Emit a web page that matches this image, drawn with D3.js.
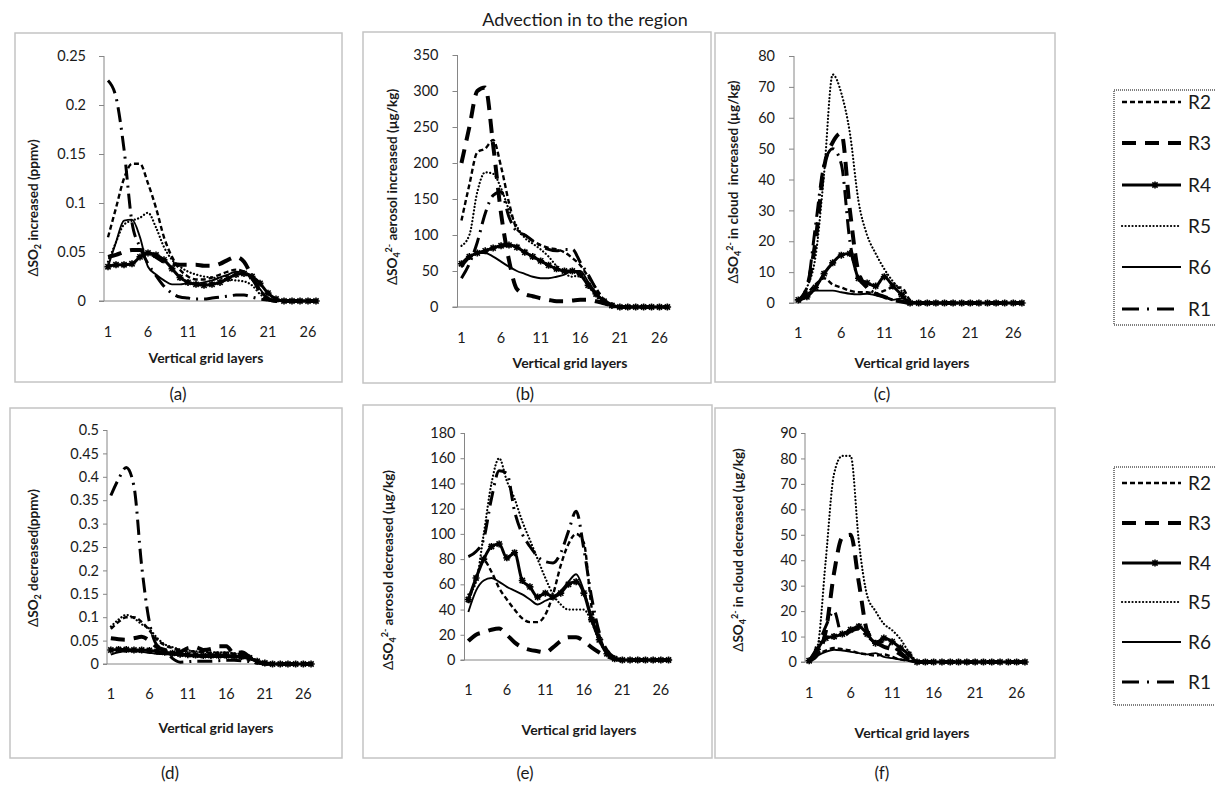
<!DOCTYPE html>
<html>
<head>
<meta charset="utf-8">
<script src="https://cdn.jsdelivr.net/npm/d3@7"></script>
<style>
body { margin: 0; background: #fff; }
svg { font-family: Lato, "Open Sans", sans-serif; }
</style>
</head>
<body>
<svg id="fig" width="1215" height="787"></svg>
<script>
// categories and tick labels
var layers = [1,2,3,4,5,6,7,8,9,10,11,12,13,14,15,16,17,18,19,20,21,22,23,24,25,26,27];
var xTickLabels = [1, 6, 11, 16, 21, 26];
var seriesNames = ["R2", "R3", "R4", "R5", "R6", "R1"];

var aTicks = [0, 0.05, 0.1, 0.15, 0.2, 0.25];
var bTicks = [0, 50, 100, 150, 200, 250, 300, 350];
var cTicks = [0, 10, 20, 30, 40, 50, 60, 70, 80];
var dTicks = [0, 0.05, 0.1, 0.15, 0.2, 0.25, 0.3, 0.35, 0.4, 0.45, 0.5];
var eTicks = [0, 20, 40, 60, 80, 100, 120, 140, 160, 180];
var fTicks = [0, 10, 20, 30, 40, 50, 60, 70, 80, 90];

// (a) SO2 increased
var aR1 = [0.225,0.208,0.155,0.08,0.055,0.038,0.026,0.015,0.008,0.004,0.003,0.002,0.002,0.003,0.004,0.005,0.006,0.006,0.004,0.002,0.001,0,0,0,0,0,0];
var aR2 = [0.065,0.095,0.125,0.14,0.14,0.12,0.095,0.065,0.045,0.032,0.025,0.022,0.022,0.024,0.027,0.03,0.032,0.03,0.022,0.01,0.003,0,0,0,0,0,0];
var aR3 = [0.045,0.047,0.05,0.052,0.052,0.05,0.045,0.04,0.038,0.037,0.037,0.037,0.036,0.036,0.038,0.042,0.045,0.04,0.025,0.01,0.002,0,0,0,0,0,0];
var aR4 = [0.035,0.037,0.037,0.038,0.045,0.049,0.047,0.042,0.033,0.024,0.019,0.017,0.016,0.017,0.019,0.023,0.027,0.028,0.025,0.018,0.008,0.002,0,0,0,0,0];
var aR5 = [0.04,0.06,0.078,0.082,0.085,0.09,0.075,0.055,0.042,0.035,0.03,0.027,0.025,0.024,0.023,0.022,0.021,0.02,0.016,0.007,0.002,0,0,0,0,0,0];
var aR6 = [0.035,0.06,0.082,0.083,0.065,0.035,0.027,0.021,0.017,0.017,0.018,0.018,0.019,0.021,0.024,0.027,0.03,0.029,0.022,0.012,0.003,0,0,0,0,0,0];

// (b) SO4 aerosol increased
var bR1 = [40,60,90,130,155,160,125,105,100,92,85,80,78,80,80,62,45,25,10,3,0,0,0,0,0,0,0];
var bR2 = [120,170,215,220,232,195,145,108,100,92,86,82,80,76,68,58,42,26,10,3,0,0,0,0,0,0,0];
var bR3 = [200,250,300,305,225,130,65,25,18,15,12,10,8,8,9,10,10,8,5,2,0,0,0,0,0,0,0];
var bR4 = [60,70,75,78,82,85,86,83,76,70,64,58,53,50,50,45,30,18,8,2,0,0,0,0,0,0,0];
var bR5 = [85,100,160,187,185,165,135,112,96,88,80,70,57,47,42,45,30,15,5,1,0,0,0,0,0,0,0];
var bR6 = [55,68,75,75,70,63,56,50,46,42,40,40,42,45,50,50,35,20,8,2,0,0,0,0,0,0,0];

// (c) SO4 in cloud increased
var cR1 = [1,5,25,45,50,45,20,8,5,3,2,1,0.5,0,0,0,0,0,0,0,0,0,0,0,0,0,0];
var cR2 = [0.5,3,6,8,6,5,4,3.5,3.5,3,4,5,5,1,0,0,0,0,0,0,0,0,0,0,0,0,0];
var cR3 = [0.5,5,20,44,52,55,30,10,5,3,2,1,0.5,0,0,0,0,0,0,0,0,0,0,0,0,0,0];
var cR4 = [1,2,5,9.5,13,15.5,16,8,6.5,5.5,8.5,5.5,2.7,0,0,0,0,0,0,0,0,0,0,0,0,0,0];
var cR5 = [1,5,15,42,74,68,55,33,22,16,11,7,4,0.5,0,0,0,0,0,0,0,0,0,0,0,0,0];
var cR6 = [0.5,3,4,4,4,3.5,3,2.8,3,2.5,2,1,1.5,0.5,0,0,0,0,0,0,0,0,0,0,0,0,0];

// (d) SO2 decreased
var dR1 = [0.36,0.395,0.42,0.38,0.21,0.09,0.04,0.03,0.012,0.004,0.005,0.006,0.006,0.006,0.007,0.008,0.008,0.007,0.005,0.002,0,0,0,0,0,0,0];
var dR2 = [0.075,0.09,0.1,0.1,0.09,0.072,0.052,0.04,0.034,0.03,0.028,0.026,0.025,0.024,0.024,0.024,0.022,0.02,0.015,0.006,0.002,0,0,0,0,0,0];
var dR3 = [0.055,0.053,0.052,0.055,0.058,0.05,0.036,0.03,0.026,0.026,0.034,0.036,0.03,0.032,0.038,0.038,0.022,0.025,0.015,0.005,0.001,0,0,0,0,0,0];
var dR4 = [0.03,0.031,0.031,0.03,0.03,0.029,0.027,0.025,0.023,0.021,0.02,0.019,0.018,0.018,0.018,0.018,0.017,0.016,0.013,0.006,0.002,0,0,0,0,0,0];
var dR5 = [0.08,0.095,0.105,0.098,0.085,0.075,0.056,0.042,0.036,0.031,0.029,0.027,0.026,0.025,0.025,0.025,0.023,0.021,0.016,0.007,0.002,0,0,0,0,0,0];
var dR6 = [0.02,0.025,0.027,0.027,0.026,0.024,0.022,0.021,0.02,0.018,0.017,0.016,0.015,0.015,0.015,0.015,0.014,0.013,0.01,0.005,0.001,0,0,0,0,0,0];

// (e) SO4 aerosol decreased
var eR1 = [82,86,96,128,150,148,118,100,90,82,78,77,85,102,118,88,50,22,8,2,0,0,0,0,0,0,0];
var eR2 = [45,65,79,70,57,48,40,33,30,30,36,52,75,92,100,93,42,20,5,1,0,0,0,0,0,0,0];
var eR3 = [15,20,22,24,25,20,14,10,8,7,6,10,15,18,18,15,10,6,3,1,0,0,0,0,0,0,0];
var eR4 = [48,65,80,90,92,81,85,63,58,50,53,50,53,60,62,53,32,16,5,1,0,0,0,0,0,0,0];
var eR5 = [52,62,100,140,160,142,128,110,95,80,65,52,44,40,40,40,30,15,5,1,0,0,0,0,0,0,0];
var eR6 = [38,55,63,65,62,58,55,52,48,44,47,50,55,62,68,55,35,18,6,1,0,0,0,0,0,0,0];

// (f) SO4 in cloud decreased
var fR1 = [0.5,6,14,20,10,12,13,10,8,8,6,4,1,0,0,0,0,0,0,0,0,0,0,0,0,0,0];
var fR2 = [0.5,3,4.5,5.5,5,4.5,3.5,3,2.5,3,2,1,0.5,0,0,0,0,0,0,0,0,0,0,0,0,0,0];
var fR3 = [0.5,3,12,35,49,50,31,12,8,6,5,3,1,0,0,0,0,0,0,0,0,0,0,0,0,0,0];
var fR4 = [0.5,5,9.4,10,11,12.7,14,11,7.4,9.4,8,5.5,3,0,0,0,0,0,0,0,0,0,0,0,0,0,0];
var fR5 = [1,6,40,74,81,81,47,26,20,15,12.5,9,4,0.5,0,0,0,0,0,0,0,0,0,0,0,0,0];
var fR6 = [0.5,2.5,4,4.8,4.5,4,3.5,3,3.5,2,1.5,1,0.5,0,0,0,0,0,0,0,0,0,0,0,0,0,0];

var styles = {
  R2: {w: 2.4, dash: "5,3"},
  R3: {w: 4, dash: "14,9"},
  R4: {w: 3, dash: null},
  R5: {w: 2.2, dash: "0.1,3.4", cap: "round"},
  R6: {w: 1.9, dash: null},
  R1: {w: 3, dash: "15,6,2,6"}
};

var svg = d3.select("#fig");

// asterisk marker like excel's "*"
function star(x, y, s) {
  var k = s * 0.75;
  return "M" + (x - s) + "," + y + "L" + (x + s) + "," + y +
    "M" + x + "," + (y - s) + "L" + x + "," + (y + s) +
    "M" + (x - k) + "," + (y - k) + "L" + (x + k) + "," + (y + k) +
    "M" + (x - k) + "," + (y + k) + "L" + (x + k) + "," + (y - k);
}

var panels = [
  {frame: [15, 33, 342, 382], left: 104, bw: 8, yb: 301, yt: 56, max: 0.25, ticks: aTicks,
   gap: 18, tl: 5, xl: 332, tx: 206, ty: 358, lab: [33, 208], letter: ["(a)", 178, 394],
   sub: "2", sup: null, text: " increased (ppmv)",
   data: {R1: aR1, R2: aR2, R3: aR3, R4: aR4, R5: aR5, R6: aR6}},
  {frame: [363, 32, 711, 383], left: 457.5, bw: 7.92, yb: 307, yt: 55, max: 350, ticks: bTicks,
   gap: 19, tl: 5, xl: 338, tx: 570, ty: 363, lab: [392, 187], letter: ["(b)", 525, 394],
   sub: "4", sup: "2-", text: " aerosol increased (\u00b5g/kg)",
   data: {R1: bR1, R2: bR2, R3: bR3, R4: bR4, R5: bR5, R6: bR6}},
  {frame: [715, 33, 1055, 382], left: 794, bw: 8.6, yb: 303, yt: 56, max: 80, ticks: cTicks,
   gap: 19, tl: 5, xl: 333, tx: 912, ty: 363, lab: [733, 182], letter: ["(c)", 882, 394],
   sub: "4", sup: "2-", text: " in cloud\u00a0 increased (\u00b5g/kg)",
   data: {R1: cR1, R2: cR2, R3: cR3, R4: cR4, R5: cR5, R6: cR6}},
  {frame: [10, 408, 342, 758], left: 107, bw: 7.7, yb: 664, yt: 430, max: 0.5, ticks: dTicks,
   gap: 8, tl: 4, xl: 694, tx: 216, ty: 728, lab: [33, 558], letter: ["(d)", 170, 773],
   sub: "2", sup: null, text: " decreased(ppmv)",
   data: {R1: dR1, R2: dR2, R3: dR3, R4: dR4, R5: dR5, R6: dR6}},
  {frame: [363, 405, 712, 758], left: 464.5, bw: 7.7, yb: 660, yt: 433, max: 180, ticks: eTicks,
   gap: 9, tl: 4, xl: 690, tx: 579, ty: 730, lab: [388, 570], letter: ["(e)", 525, 773],
   sub: "4", sup: "2-", text: " aerosol decreased (\u00b5g/kg)",
   data: {R1: eR1, R2: eR2, R3: eR3, R4: eR4, R5: eR5, R6: eR6}},
  {frame: [715, 408, 1055, 758], left: 805, bw: 8.3, yb: 662, yt: 433, max: 90, ticks: fTicks,
   gap: 8, tl: 4, xl: 693, tx: 912, ty: 733, lab: [738, 550], letter: ["(f)", 882, 773],
   sub: "4", sup: "2-", text: " in cloud decreased (\u00b5g/kg)",
   data: {R1: fR1, R2: fR2, R3: fR3, R4: fR4, R5: fR5, R6: fR6}}
];

svg.append("text")
  .attr("x", 585).attr("y", 20).attr("dy", "0.35em")
  .attr("text-anchor", "middle")
  .style("font-size", "18px").attr("fill", "#1a1a1a")
  .text("Advection in to the region");

panels.forEach(function(p) {
  var g = svg.append("g");
  var f = p.frame;
  g.append("rect")
    .attr("x", f[0]).attr("y", f[1]).attr("width", f[2] - f[0]).attr("height", f[3] - f[1])
    .attr("fill", "none").attr("stroke", "#c4c4c4").attr("stroke-width", 1.5);

  var x = d3.scalePoint().domain(layers)
    .range([p.left, p.left + p.bw * layers.length]).padding(0.5);
  var y = d3.scaleLinear().domain([0, p.max]).range([p.yb, p.yt]);

  // y axis
  var yAxis = d3.axisLeft(y).tickValues(p.ticks).tickSize(p.tl).tickPadding(p.gap - p.tl)
    .tickFormat(function(d) { return d3.format("~g")(d); });
  var ya = g.append("g").attr("transform", "translate(" + p.left + ",0)").call(yAxis);
  ya.select(".domain").attr("stroke", "#868686").attr("d", "M0," + p.yt + "V" + p.yb);
  ya.selectAll(".tick line").attr("stroke", "#868686");
  ya.selectAll(".tick text").style("font-size", "14.5px").style("font-family", "Lato, 'Open Sans', sans-serif").attr("fill", "#1a1a1a");

  // x axis line
  g.append("line")
    .attr("x1", p.left - p.tl).attr("x2", p.left + p.bw * layers.length)
    .attr("y1", y(0)).attr("y2", y(0))
    .attr("stroke", "#868686");

  g.selectAll(".xl").data(xTickLabels).enter().append("text")
    .attr("x", function(d) { return x(d); }).attr("y", p.xl).attr("dy", "0.35em")
    .attr("text-anchor", "middle").style("font-size", "14.5px").attr("fill", "#1a1a1a")
    .text(function(d) { return d; });

  g.append("text")
    .attr("x", p.tx).attr("y", p.ty).attr("dy", "0.35em")
    .attr("text-anchor", "middle").style("font-size", "14px").style("font-weight", "bold")
    .attr("fill", "#1a1a1a").text("Vertical grid layers");

  // y axis title with sub/superscripts
  var yt = g.append("text")
    .attr("transform", "translate(" + p.lab[0] + "," + p.lab[1] + ") rotate(-90)")
    .attr("text-anchor", "middle").attr("dy", "0.35em")
    .style("font-size", "13.5px").style("font-weight", "bold").attr("fill", "#1a1a1a");
  yt.append("tspan").style("font-weight", "normal").text("\u0394");
  yt.append("tspan").text("SO");
  yt.append("tspan").attr("dy", 3).style("font-size", "9px").text(p.sub);
  if (p.sup) {
    yt.append("tspan").attr("dy", -8).style("font-size", "9px").text(p.sup);
    yt.append("tspan").attr("dy", 5).text(p.text);
  } else {
    yt.append("tspan").attr("dy", -3).text(p.text);
  }

  g.append("text")
    .attr("x", p.letter[1]).attr("y", p.letter[2]).attr("dy", "0.35em")
    .attr("text-anchor", "middle").style("font-size", "17px").attr("fill", "#1a1a1a")
    .text(p.letter[0]);

  var line = d3.line()
    .x(function(d, i) { return x(layers[i]); })
    .y(function(d) { return y(d); })
    .curve(d3.curveMonotoneX);

  seriesNames.forEach(function(name) {
    var st = styles[name];
    var vals = p.data[name];
    g.append("path")
      .attr("d", line(vals))
      .attr("fill", "none").attr("stroke", "#000")
      .attr("stroke-width", st.w)
      .attr("stroke-dasharray", st.dash)
      .attr("stroke-linecap", st.cap || "butt")
      .attr("stroke-linejoin", "round");
    if (name === "R4") {
      g.selectAll(".m4").data(vals).enter().append("path")
        .attr("d", function(d, i) { return star(x(layers[i]), y(d), 3.5); })
        .attr("stroke", "#000").attr("stroke-width", 1.6).attr("fill", "none");
    }
  });
});

// legends (the box runs off the right edge, as in the source figure)
var legends = [
  {box: [1114, 90, 1250, 325], rows: [102, 143, 185, 226, 267, 309]},
  {box: [1114, 467, 1250, 705], rows: [483, 523, 563, 602, 642, 682]}
];

legends.forEach(function(lg) {
  var g = svg.append("g");
  g.append("rect")
    .attr("x", lg.box[0]).attr("y", lg.box[1])
    .attr("width", lg.box[2] - lg.box[0]).attr("height", lg.box[3] - lg.box[1])
    .attr("fill", "#fff").attr("stroke", "#555").attr("stroke-width", 1.5)
    .attr("stroke-dasharray", "1,1");
  seriesNames.forEach(function(name, i) {
    var st = styles[name];
    var yy = lg.rows[i];
    g.append("line")
      .attr("x1", 1122).attr("x2", 1181).attr("y1", yy).attr("y2", yy)
      .attr("stroke", "#000").attr("stroke-width", st.w)
      .attr("stroke-dasharray", name === "R1" ? "17,8,2,8" : st.dash)
      .attr("stroke-linecap", st.cap || "butt");
    if (name === "R4") {
      g.append("path").attr("d", star(1155, yy, 3.5))
        .attr("stroke", "#000").attr("stroke-width", 1.6).attr("fill", "none");
    }
    g.append("text")
      .attr("x", 1188).attr("y", yy).attr("dy", "0.35em")
      .style("font-size", "19px").attr("fill", "#1a1a1a")
      .text(name);
  });
});
</script>
</body>
</html>
